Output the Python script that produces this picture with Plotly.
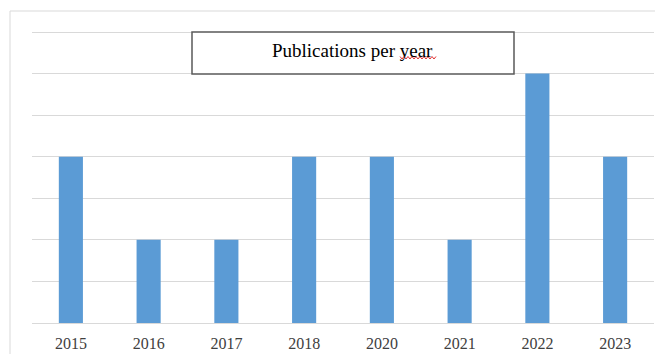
import plotly.graph_objects as go

years = ["2015", "2016", "2017", "2018", "2020", "2021", "2022", "2023"]
publications = [2, 1, 1, 2, 2, 1, 3, 2]

W, H = 655, 354
L, R, T, B = 32, 1, 30, 31
pw, ph = W - L - R, H - T - B
ymax = 3.5 * ph / 291.0

def px(x):
    return (x - L) / pw

def py(y):
    return (H - B - y) / ph

fig = go.Figure(go.Bar(x=years, y=publications, marker_color="#5b9bd5",
                       marker_line_width=0, width=0.31))

# wavy underline path
pts = []
x = 400
i = 0
while x <= 437:
    yy = 56.5 if i % 2 == 0 else 59
    pts.append((px(x), py(yy)))
    x += 2
    i += 1
path = "M " + " L ".join(f"{a:.5f},{b:.5f}" for a, b in pts)

fig.update_layout(
    width=W, height=H,
    margin=dict(l=L, r=R, t=T, b=B),
    paper_bgcolor="white", plot_bgcolor="white",
    showlegend=False,
    xaxis=dict(showgrid=False, showline=False, ticks="", zeroline=False,
               ticklabelstandoff=9,
               tickfont=dict(family="Liberation Serif", size=16, color="#404040")),
    yaxis=dict(range=[0, ymax], tick0=0, dtick=0.5, showticklabels=False, gridcolor="#d9d9d9",
               gridwidth=1, zeroline=True, zerolinecolor="#d9d9d9", zerolinewidth=1,
               showline=False, ticks=""),
    shapes=[
        dict(type="rect", xref="paper", yref="paper", x0=px(10), x1=px(700),
             y0=py(400), y1=py(11), line=dict(color="#d9d9d9", width=1),
             fillcolor="rgba(0,0,0,0)", layer="below"),
        dict(type="rect", xref="paper", yref="paper", x0=px(192), x1=px(514),
             y0=py(74), y1=py(32), line=dict(color="#595959", width=1.5),
             fillcolor="white", layer="above"),
        dict(type="path", xref="paper", yref="paper", path=path,
             line=dict(color="#e03030", width=1), layer="above"),
    ],
    annotations=[
        dict(text="Publications per year", xref="paper", yref="paper",
             x=px(353), y=py(50), xanchor="center", yanchor="middle", showarrow=False,
             font=dict(family="Liberation Serif", size=19, color="#000000"))
    ],
)

fig.write_html("out.html")
